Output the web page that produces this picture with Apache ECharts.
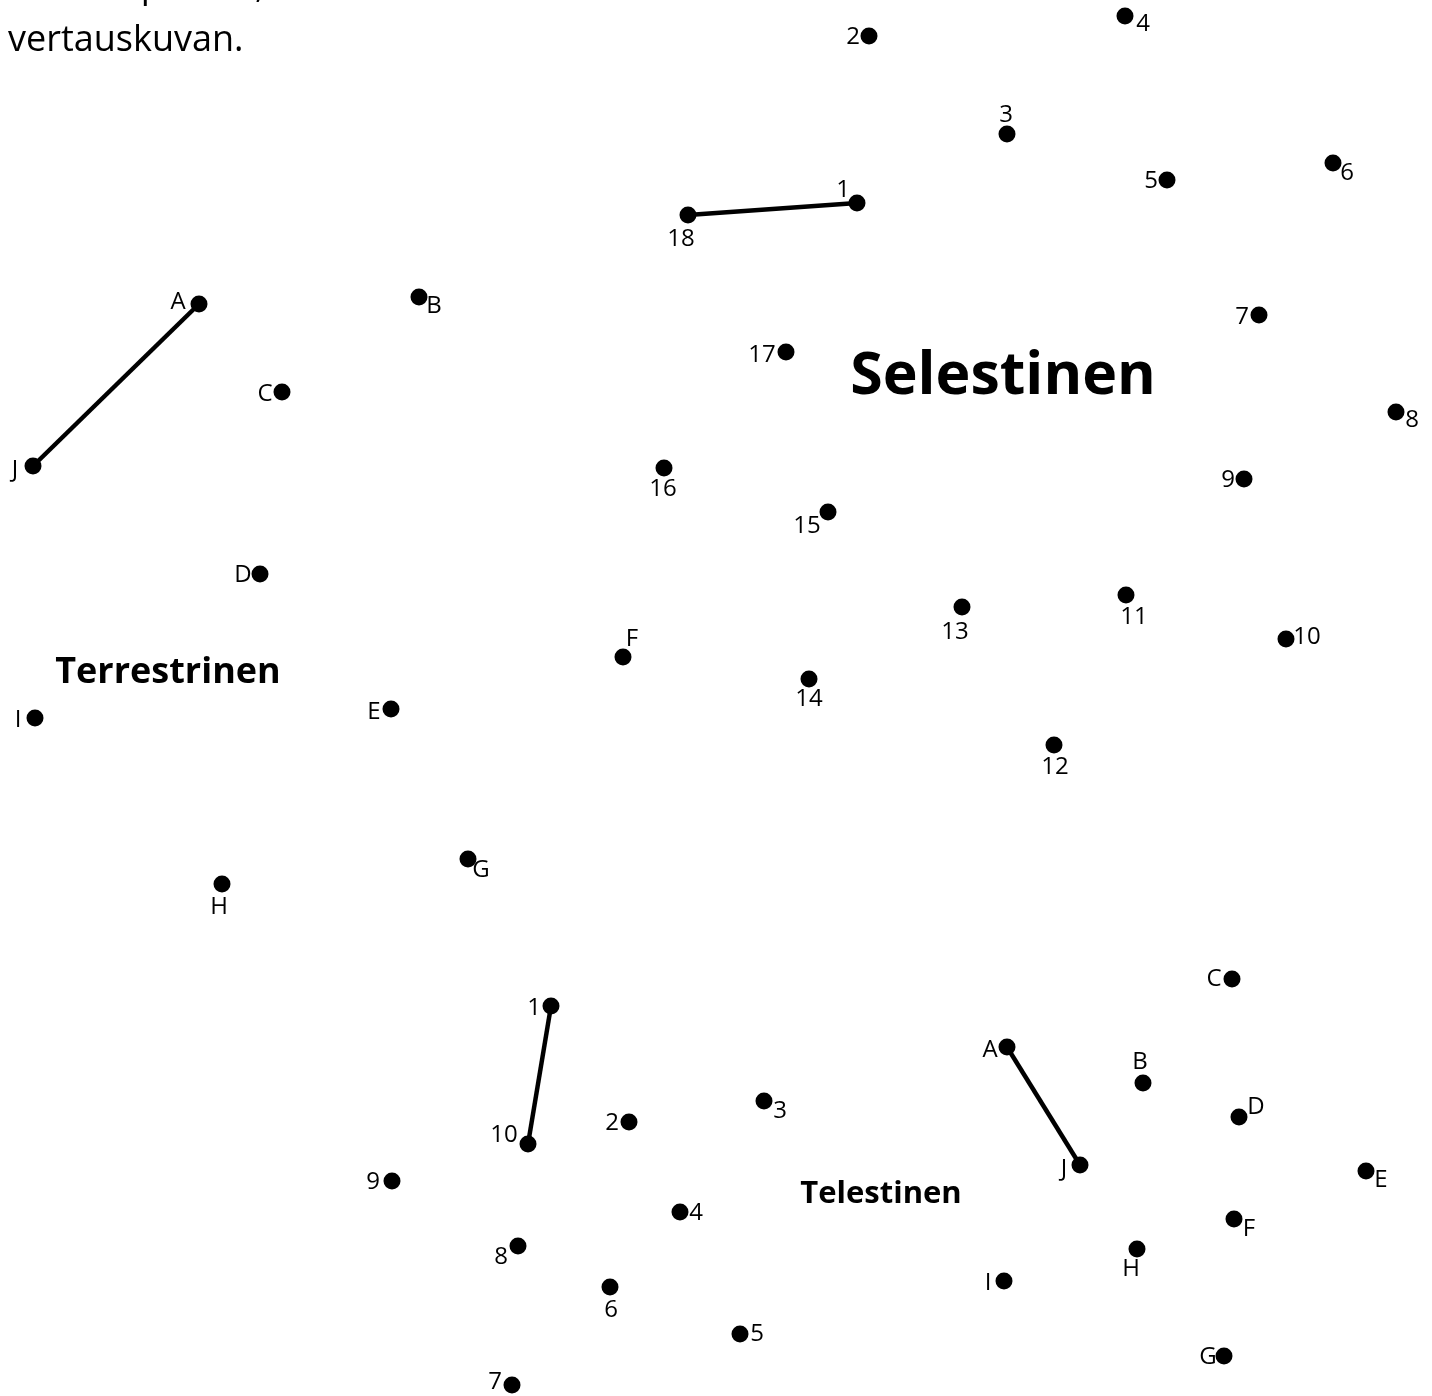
<!DOCTYPE html>
<html>
<head>
<meta charset="utf-8">
<title>Selestinen, Terrestrinen, Telestinen</title>
<script src="https://cdn.jsdelivr.net/npm/echarts@6/dist/echarts.min.js"></script>
<style>
  html, body { margin: 0; padding: 0; background: #fff; }
  #chart { width: 1432px; height: 1396px; }
</style>
</head>
<body>
<div id="chart"></div>
<script>
// pisteet: nimi, x, y (kuvan koordinaateissa, y alaspäin)
const selestinenLabels = ['1', '2', '3', '4', '5', '6', '7', '8', '9', '10', '11', '12', '13', '14', '15', '16', '17', '18']
const selestinenX = [857, 869, 1007, 1125, 1167, 1333, 1259, 1396, 1244, 1286, 1126, 1054, 962, 809, 828, 664, 786, 688]
const selestinenY = [203, 36, 134, 16, 180, 163, 315, 412, 479, 639, 595, 745, 607, 679, 512, 468, 352, 215]
const selestinenLink = ['18', '1']

const terrestrinenLabels = ['A', 'B', 'C', 'D', 'E', 'F', 'G', 'H', 'I', 'J']
const terrestrinenX = [199, 419, 282, 260, 391, 623, 468, 222, 35, 33]
const terrestrinenY = [304, 297, 392, 574, 709, 657, 859, 884, 718, 466]
const terrestrinenLink = ['A', 'J']

const telestinenLabels = ['A', 'B', 'C', 'D', 'E', 'F', 'G', 'H', 'I', 'J']
const telestinenX = [1007, 1143, 1232, 1239, 1366, 1234, 1224, 1137, 1004, 1080]
const telestinenY = [1047, 1083, 979, 1117, 1171, 1219, 1356, 1249, 1281, 1165]
const telestinenLink = ['A', 'J']

const numerotLabels = ['1', '2', '3', '4', '5', '6', '7', '8', '9', '10']
const numerotX = [551, 629, 764, 680, 740, 610, 512, 518, 392, 528]
const numerotY = [1006, 1122, 1101, 1212, 1334, 1287, 1385, 1246, 1181, 1144]
const numerotLink = ['1', '10']

// tunnusten sijainti pisteeseen nähden (px)
const selestinenOffset = [[-14, -13], [-16, 1], [-1, -19], [18, 8], [-16, 1], [14, 10], [-17, 2], [16, 8], [-16, 1], [21, -2], [8, 22], [1, 22], [-7, 25], [0, 20], [-21, 14], [-1, 21], [-24, 3], [-7, 24]]
const terrestrinenOffset = [[-21, -2], [15, 9], [-17, 2], [-17, 1], [-17, 3], [9, -18], [13, 11], [-3, 23], [-17, 2], [-18, 4]]
const telestinenOffset = [[-17, 3], [-3, -21], [-18, 0], [17, -10], [15, 9], [15, 10], [-16, 1], [-6, 20], [-16, 2], [-16, 4]]
const numerotOffset = [[-17, 2], [-17, 1], [16, 10], [16, 1], [17, 0], [1, 23], [-17, -3], [-17, 11], [-19, 1], [-24, -9]]

const fontFamily = '"Open Sans", "Noto Sans", sans-serif'

function dots(name, labels, xs, ys, offsets) {
  return {
    name: name,
    type: 'scatter',
    symbol: 'circle',
    symbolSize: 17,
    z: 3,
    itemStyle: { color: '#000', opacity: 1 },
    label: {
      show: true,
      position: 'inside',
      formatter: '{b}',
      color: '#000',
      fontFamily: fontFamily,
      fontSize: 24
    },
    emphasis: { disabled: true },
    data: labels.map((l, i) => ({
      name: l,
      value: [xs[i], ys[i]],
      label: { offset: offsets[i] }
    }))
  }
}

function link(name, labels, xs, ys, pair) {
  const a = labels.indexOf(pair[0])
  const b = labels.indexOf(pair[1])
  return {
    name: name + ' viiva',
    type: 'line',
    symbol: 'none',
    z: 2,
    lineStyle: { color: '#000', width: 4.5, opacity: 1 },
    data: [[xs[a], ys[a]], [xs[b], ys[b]]]
  }
}

function title(text, x, y, size) {
  return {
    type: 'text',
    x: x,
    y: y,
    style: {
      text: text,
      fill: '#000',
      font: 'bold ' + size + 'px ' + fontFamily,
      textAlign: 'center',
      textVerticalAlign: 'middle'
    }
  }
}

const chart = echarts.init(document.getElementById('chart'))
chart.setOption({
  animation: false,
  backgroundColor: '#fff',
  grid: { left: 0, right: 0, top: 0, bottom: 0 },
  xAxis: { type: 'value', min: 0, max: 1432, show: false },
  yAxis: { type: 'value', min: 0, max: 1396, inverse: true, show: false },
  graphic: [
    {
      type: 'text',
      left: 8,
      top: -40,
      style: {
        text: 'Yhdistä pisteet, niin saat\nvertauskuvan.',
        fill: '#000',
        font: '36px ' + fontFamily,
        lineHeight: 54
      }
    },
    title('Selestinen', 1003, 377, 59),
    title('Terrestrinen', 168, 673, 36),
    title('Telestinen', 881, 1194, 31)
  ],
  series: [
    link('Selestinen', selestinenLabels, selestinenX, selestinenY, selestinenLink),
    link('Terrestrinen', terrestrinenLabels, terrestrinenX, terrestrinenY, terrestrinenLink),
    link('Telestinen', telestinenLabels, telestinenX, telestinenY, telestinenLink),
    link('Numerot', numerotLabels, numerotX, numerotY, numerotLink),
    dots('Selestinen', selestinenLabels, selestinenX, selestinenY, selestinenOffset),
    dots('Terrestrinen', terrestrinenLabels, terrestrinenX, terrestrinenY, terrestrinenOffset),
    dots('Telestinen', telestinenLabels, telestinenX, telestinenY, telestinenOffset),
    dots('Numerot', numerotLabels, numerotX, numerotY, numerotOffset)
  ]
})
</script>
</body>
</html>
